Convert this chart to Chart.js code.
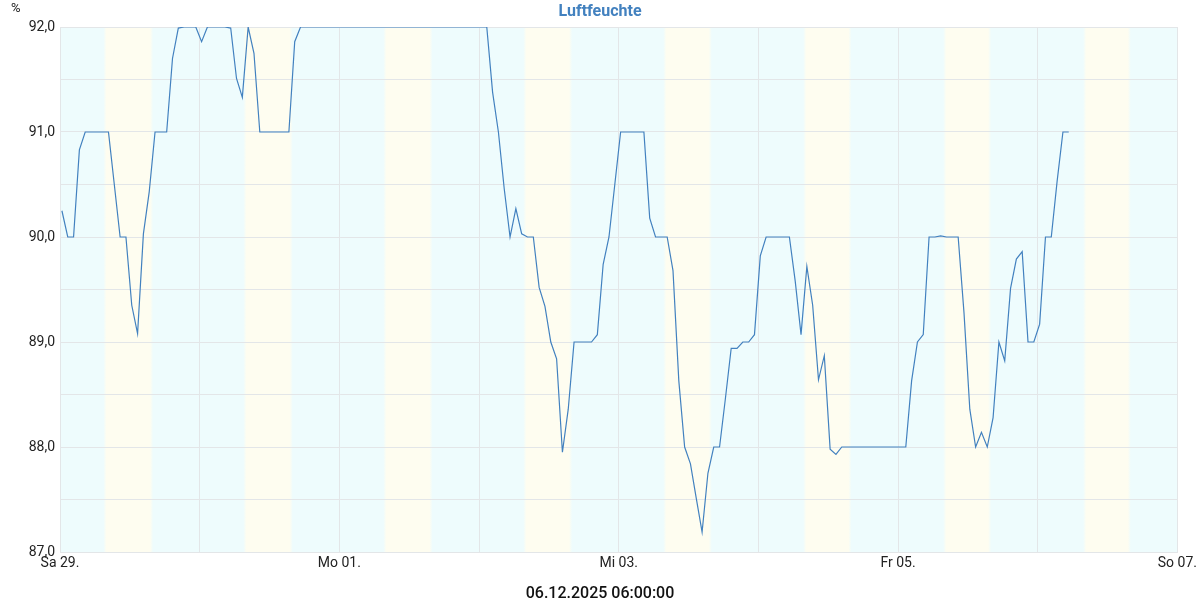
<!DOCTYPE html>
<html lang="de">
<head>
<meta charset="utf-8">
<title>Luftfeuchte</title>
<script src="https://cdn.jsdelivr.net/npm/chart.js@4/dist/chart.umd.min.js"></script>
<style>
  html,body{margin:0;padding:0;background:#fff}
  #wrap{width:1200px;height:600px;position:relative}
</style>
</head>
<body>
<div id="wrap"><canvas id="c-hum"></canvas></div>
<script>
/* Luftfeuchte, Sa 29. – So 07., stündliche Messwerte (x = Stunden ab Sa 29. 00:00) */

const FIRST_SAMPLE = 0.33;            // erster Messwert ca. 00:20
const HUMIDITY = [
  90.25, 90.0, 90.0, 90.83, 91.0, 91.0, 91.0, 91.0, 91.0, 90.5,
  90.0, 90.0, 89.35, 89.08, 90.03, 90.43, 91.0, 91.0, 91.0, 91.7,
  91.99, 92.0, 92.0, 92.0, 91.86, 92.0, 92.0, 92.0, 92.0, 91.99,
  91.51, 91.33, 92.0, 91.75, 91.0, 91.0, 91.0, 91.0, 91.0, 91.0,
  91.86, 92.0, 92.0, 92.0, 92.0, 92.0, 92.0, 92.0, 92.0, 92.0,
  92.0, 92.0, 92.0, 92.0, 92.0, 92.0, 92.0, 92.0, 92.0, 92.0,
  92.0, 92.0, 92.0, 92.0, 92.0, 92.0, 92.0, 92.0, 92.0, 92.0,
  92.0, 92.0, 92.0, 92.0, 91.38, 91.0, 90.46, 90.0, 90.27, 90.03,
  90.0, 90.0, 89.52, 89.34, 89.0, 88.84, 87.95, 88.36, 89.0, 89.0,
  89.0, 89.0, 89.07, 89.74, 90.0, 90.5, 91.0, 91.0, 91.0, 91.0,
  91.0, 90.18, 90.0, 90.0, 90.0, 89.68, 88.63, 88.0, 87.84, 87.51,
  87.19, 87.75, 88.0, 88.0, 88.46, 88.94, 88.94, 89.0, 89.0, 89.07,
  89.82, 90.0, 90.0, 90.0, 90.0, 90.0, 89.58, 89.07, 89.72, 89.35,
  88.64, 88.87, 87.98, 87.93, 88.0, 88.0, 88.0, 88.0, 88.0, 88.0,
  88.0, 88.0, 88.0, 88.0, 88.0, 88.0, 88.63, 89.0, 89.07, 90.0,
  90.0, 90.01, 90.0, 90.0, 90.0, 89.28, 88.36, 88.0, 88.14, 88.0,
  88.28, 89.0, 88.82, 89.51, 89.79, 89.86, 89.0, 89.0, 89.17, 90.0,
  90.0, 90.53, 91.0, 91.0
];

// x-Achse: ein Gitter pro Tag, Beschriftung jeden zweiten Tag
const DAY_LABELS = ['Sa 29.', '', 'Mo 01.', '', 'Mi 03.', '', 'Fr 05.', '', 'So 07.'];

// Tag/Nacht-Hintergrund (Stunde des Tages)
const SUNRISE = [7.45, 7.5, 7.55, 7.6, 7.65, 7.7, 7.75, 7.8];
const SUNSET  = [16.0, 16.0, 16.0, 16.0, 16.0, 16.0, 16.0, 16.0];

const TITLE    = 'Luftfeuchte';
const FOOTER   = '06.12.2025 06:00:00';
const UNIT     = '%';

const LINE_C   = '#4281BF';
const NIGHT_C  = '#EEFCFD';
const DAY_C    = '#FEFDF0';
const GRID_C   = '#E3E6E8';

/* ── Tag/Nacht-Bänder unter dem Gitter ─────────────────────── */
const bandPlugin = {
  id:'dayNight',
  beforeDraw(chart){
    const {ctx, chartArea:a, scales:{x}} = chart;
    ctx.save();
    ctx.fillStyle = NIGHT_C;
    ctx.fillRect(a.left, a.top, a.right - a.left, a.bottom - a.top);
    SUNRISE.forEach((sr, d) => {
      const x0 = x.getPixelForValue(d*24 + sr);
      const x1 = x.getPixelForValue(d*24 + SUNSET[d]);
      const w = x1 - x0, f = Math.min(0.2, 3/w);
      const g = ctx.createLinearGradient(x0, 0, x1, 0);
      g.addColorStop(0, NIGHT_C);
      g.addColorStop(f, DAY_C);
      g.addColorStop(1 - f, DAY_C);
      g.addColorStop(1, NIGHT_C);
      ctx.fillStyle = g;
      ctx.fillRect(x0, a.top, w, a.bottom - a.top);
    });
    ctx.restore();
  },
  afterDraw(chart){
    // Einheit oben links
    const {ctx} = chart;
    ctx.save();
    ctx.font = "13px Roboto, 'Noto Sans', sans-serif";
    ctx.fillStyle = '#222';
    ctx.textBaseline = 'middle';
    ctx.fillText(UNIT, 11, 9);
    ctx.restore();
  }
};

function main(){
  Chart.defaults.font.family = "Roboto, 'Noto Sans', sans-serif";
  Chart.defaults.color = '#222';

  const points = HUMIDITY.map((v, i) => ({x: FIRST_SAMPLE + i, y: v}));

  new Chart(document.getElementById('c-hum'), {
    type:'line',
    data:{datasets:[{
      label:TITLE, data:points,
      borderColor:LINE_C, backgroundColor:'transparent',
      borderWidth:1.2, pointRadius:0, tension:0, fill:false
    }]},
    options:{
      responsive:true, maintainAspectRatio:false, animation:false,
      layout:{padding:0},
      plugins:{
        legend:{display:false},
        tooltip:{enabled:false},
        title:{display:true, text:TITLE, color:LINE_C,
               font:{size:16, weight:'bold', lineHeight:1.2}, padding:{top:2, bottom:5.8}},
        subtitle:{display:true, position:'bottom', text:FOOTER, color:'#111',
               font:{size:16, weight:'500', lineHeight:0.7}, padding:{top:14, bottom:0}}
      },
      scales:{
        x:{
          type:'linear', min:0, max:192,
          border:{color:GRID_C},
          grid:{color:GRID_C, drawTicks:false},
          ticks:{stepSize:24, autoSkip:false, maxRotation:0, padding:3,
                 font:{size:14},
                 callback:v => DAY_LABELS[Math.round(v/24)] ?? ''}
        },
        y:{
          min:87, max:92,
          border:{color:GRID_C},
          grid:{color:GRID_C, drawTicks:false},
          ticks:{stepSize:0.5, padding:5, font:{size:14},
                 callback:v => Number.isInteger(v) ? v.toFixed(1).replace('.', ',') : ''},
          afterFit:s => { s.width = 60; }
        },
        // leere rechte Achse als Randabstand, damit Titel mittig bleibt
        yRight:{
          position:'right', min:87, max:92,
          grid:{display:false, drawTicks:false}, border:{display:false},
          ticks:{display:false},
          afterFit:s => { s.width = 22; }
        }
      }
    },
    plugins:[bandPlugin]
  });
}

window.addEventListener('DOMContentLoaded', main);
</script>
</body>
</html>
